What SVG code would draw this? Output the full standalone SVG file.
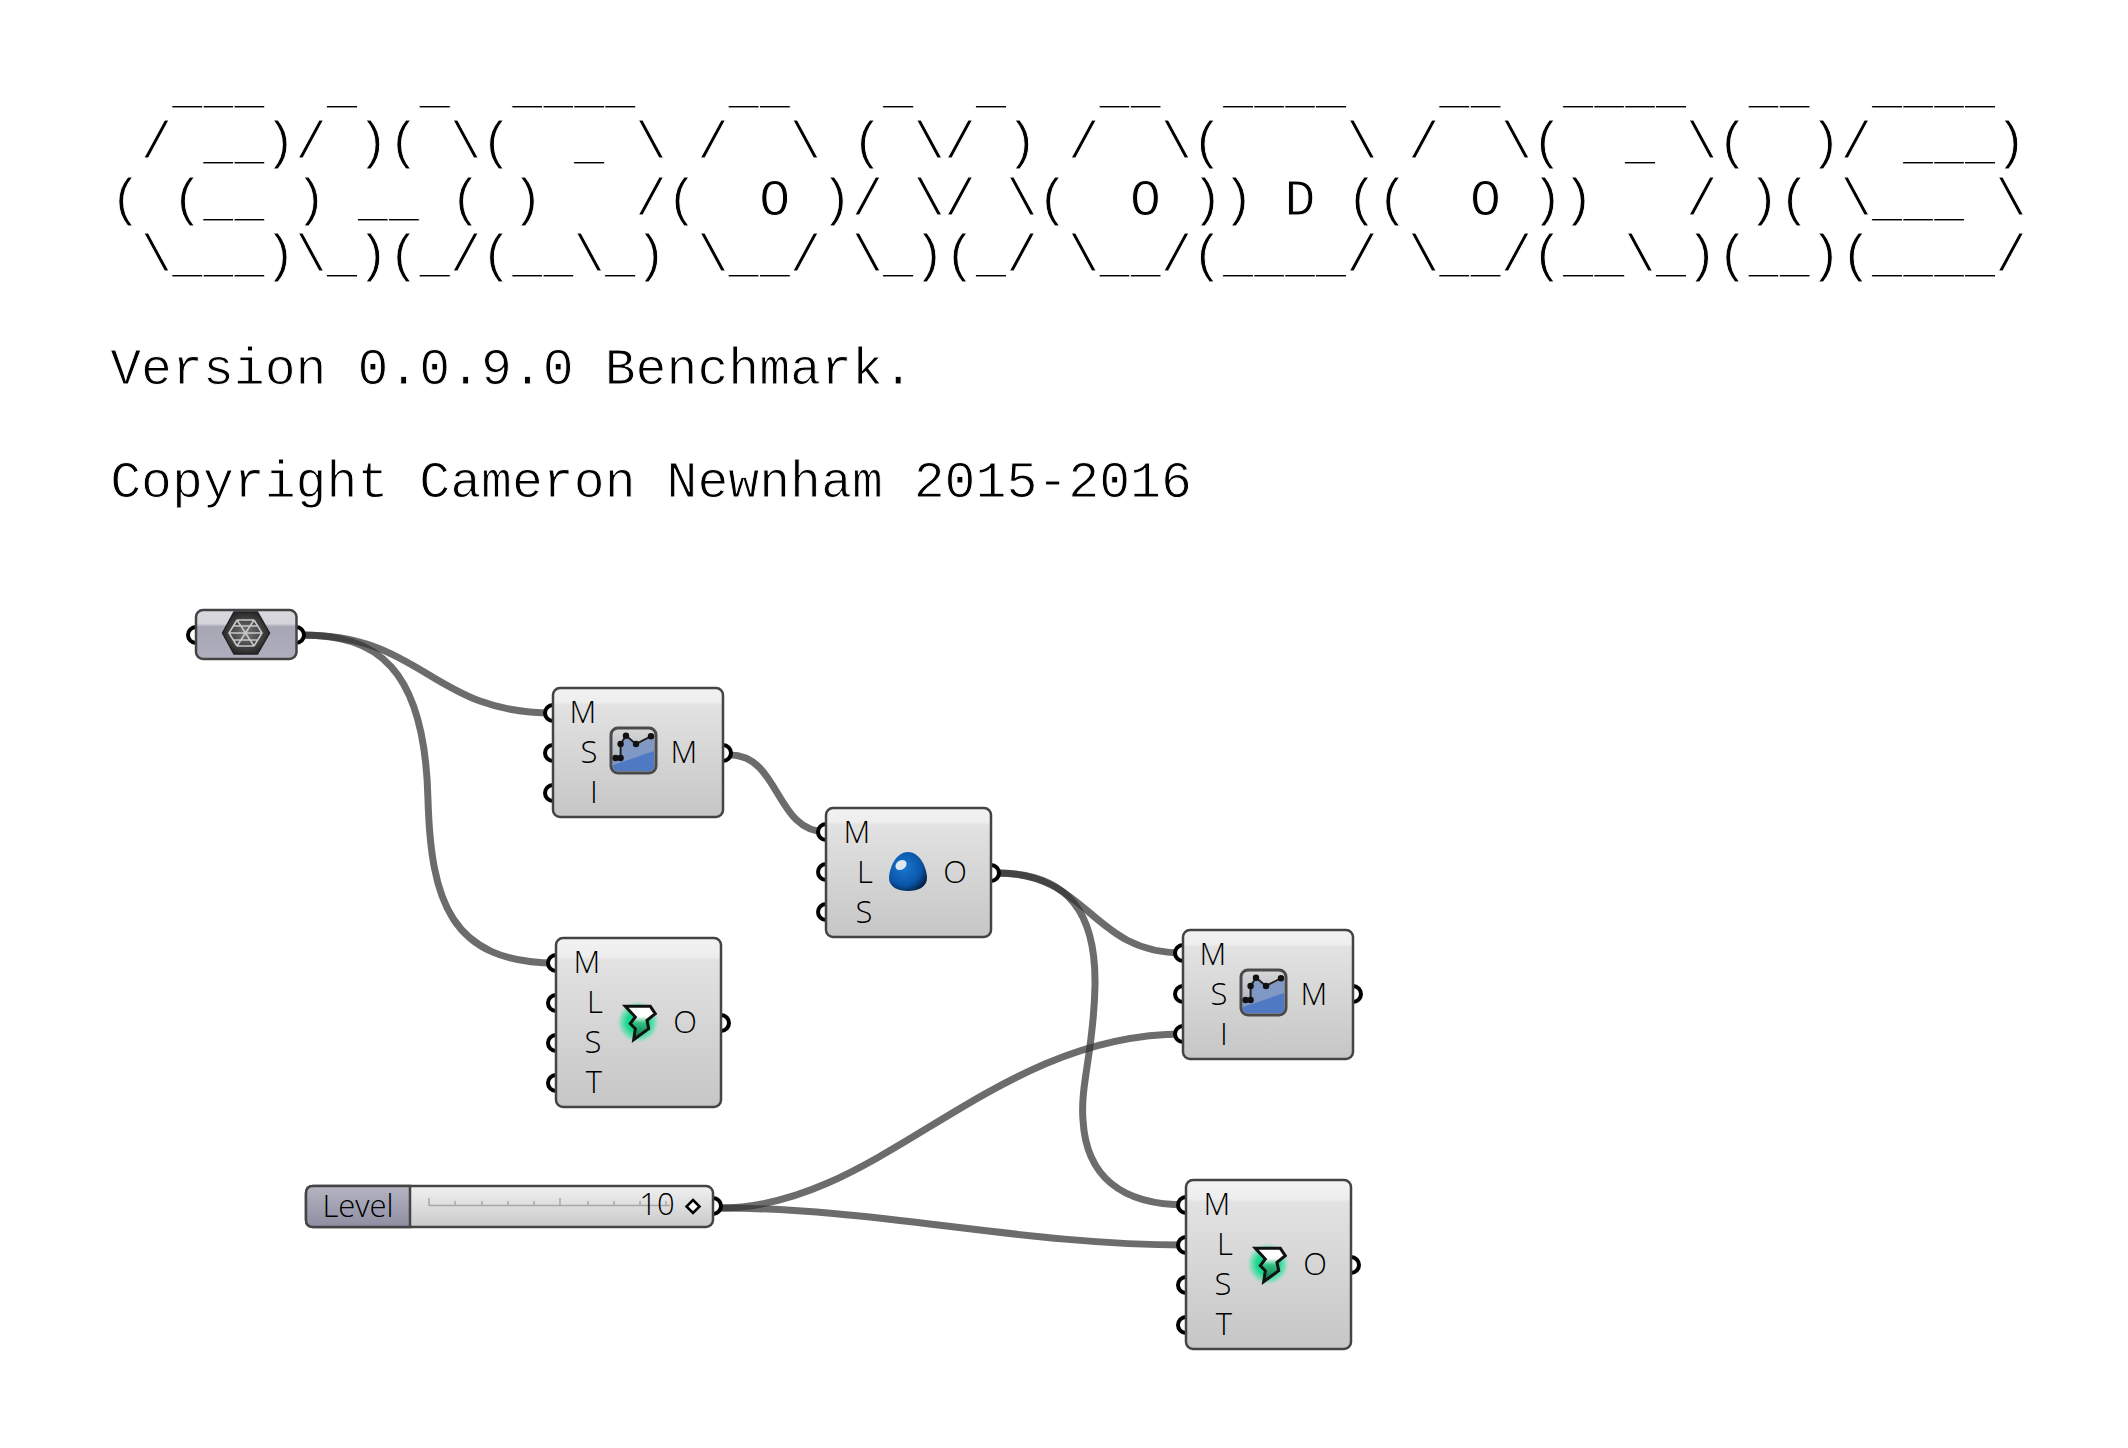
<svg xmlns="http://www.w3.org/2000/svg" width="2128" height="1448" viewBox="0 0 2128 1448">
<style>
.mono{font-family:"Liberation Mono","Courier New",monospace;font-size:51.5px;fill:#000;stroke:#fff;stroke-width:.9px;white-space:pre}
.lbl{font-family:"Open Sans","Noto Sans",sans-serif;font-size:31px;font-weight:350;fill:#000;text-anchor:middle}
.box{fill:url(#body);stroke:#444;stroke-width:2.5}
.port{fill:#fff;stroke:#000;stroke-width:4}
.wire{fill:none;stroke:#333;stroke-opacity:.72;stroke-width:7}
</style>
<defs>
<linearGradient id="body" x1="0" y1="0" x2="0" y2="1">
<stop offset="0" stop-color="#f2f2f2"/><stop offset=".11" stop-color="#eeeeee"/><stop offset=".13" stop-color="#e2e2e2"/><stop offset="1" stop-color="#c6c6c6"/>
</linearGradient>
<linearGradient id="grey" x1="0" y1="0" x2="0" y2="1">
<stop offset="0" stop-color="#d8d8de"/><stop offset=".28" stop-color="#d4d4da"/><stop offset=".34" stop-color="#a6a6b4"/><stop offset="1" stop-color="#aeaebc"/>
</linearGradient>
<linearGradient id="level" x1="0" y1="0" x2="0" y2="1">
<stop offset="0" stop-color="#b4b4c2"/><stop offset="1" stop-color="#8e8ea2"/>
</linearGradient>
<linearGradient id="slide" x1="0" y1="0" x2="0" y2="1">
<stop offset="0" stop-color="#f0f0f0"/><stop offset="1" stop-color="#cacaca"/>
</linearGradient>
<linearGradient id="chart" x1="0" y1="0" x2="0" y2="1">
<stop offset="0" stop-color="#d8d8d8"/><stop offset="1" stop-color="#a0a8b8"/>
</linearGradient>
<radialGradient id="egg" cx=".4" cy=".4" r=".65">
<stop offset="0" stop-color="#1a78d0"/><stop offset=".7" stop-color="#0a55a8"/><stop offset="1" stop-color="#04264e"/>
</radialGradient>
<radialGradient id="glow">
<stop offset="0" stop-color="#00d080"/><stop offset=".55" stop-color="#20d890"/><stop offset=".8" stop-color="#50e0a8" stop-opacity=".65"/><stop offset="1" stop-color="#80e8c0" stop-opacity="0"/>
</radialGradient>
<linearGradient id="boltfill" x1="0" y1="0" x2="0" y2="1">
<stop offset="0" stop-color="#fff"/><stop offset=".3" stop-color="#fff"/><stop offset=".5" stop-color="#30c080"/><stop offset="1" stop-color="#0a6a40"/>
</linearGradient>
<radialGradient id="hex"><stop offset="0" stop-color="#777"/><stop offset="1" stop-color="#2a2a2a"/></radialGradient>
<g id="chartIcon">
<rect x="0" y="0" width="45" height="45" rx="7" fill="url(#chart)" stroke="#4a4a4a" stroke-width="3"/>
<path d="M2 30L10 28L10 17L15 9L25 17L40 10L43 10V38Q43 43 38 43H7Q2 43 2 38Z" fill="#7f98c4"/>
<path d="M2 37L20 31L43 23V38Q43 43 38 43H7Q2 43 2 38Z" fill="#4f79c2"/>
<polyline points="4.6,30 9.6,30 9.6,16 15,7.7 25,16 40,8.3" fill="none" stroke="#222" stroke-width="2"/>
<g fill="#111"><circle cx="4.6" cy="30" r="3.2"/><circle cx="9.6" cy="30" r="3.2"/><circle cx="9.6" cy="16" r="3.2"/><circle cx="15" cy="7.7" r="3.2"/><circle cx="25" cy="16" r="3.2"/><circle cx="40" cy="8.3" r="3.2"/></g>
</g>
<g id="boltIcon">
<circle cx="0" cy="0" r="21" fill="url(#glow)"/>
<path d="M-12.7 -15.7H12.3L17.3 -8.3L9 -1.7L10.7 6.7L-4.3 17.7L-2.7 6.7L-7.7 1.7L-2.7 -5Z" fill="url(#boltfill)" stroke="#111" stroke-width="3" stroke-linejoin="miter"/>
</g>
</defs>
<rect width="2128" height="1448" fill="#fff"/>
<g id="banner">
<text class="mono" xml:space="preserve" x="110.2" y="102">  ___  _  _  ____   __   _  _   __  ____   __  ____  __  ____</text>
<text class="mono" xml:space="preserve" x="110.2" y="158.4"> / __)/ )( \(  _ \ /  \ ( \/ ) /  \(    \ /  \(  _ \(  )/ ___)</text>
<text class="mono" xml:space="preserve" x="110.2" y="214.8">( (__ ) __ ( )   /(  O )/ \/ \(  O )) D ((  O ))   / )( \___ \</text>
<text class="mono" xml:space="preserve" x="110.2" y="271.2"> \___)\_)(_/(__\_) \__/ \_)(_/ \__/(____/ \__/(__\_)(__)(____/</text>
<text class="mono" xml:space="preserve" x="110.2" y="384.2">Version 0.0.9.0 Benchmark.</text>
<text class="mono" xml:space="preserve" x="110.2" y="497.4">Copyright Cameron Newnham 2015-2016</text>
</g>
<g id="connectors">
<path class="wire" d="M302 635C425 635 430 713 553 713"/>
<path class="wire" d="M302 635C375 635 425 665 428 800C431 900 450 963 556 963"/>
<path class="wire" d="M730 755C780 755 775 832 826 832"/>
<path class="wire" d="M997 873C1090 873 1090 953 1183 953"/>
<path class="wire" d="M997 873C1070 873 1096 915 1095 985C1094 1050 1080 1085 1083 1120C1086 1175 1120 1205 1186 1205"/>
<path class="wire" d="M720 1208C880 1208 990 1034 1183 1034"/>
<path class="wire" d="M720 1208C880 1208 1020 1245 1186 1245"/>
</g>
<g id="mesh">
<circle class="port" cx="196" cy="635" r="8"/><circle class="port" cx="296" cy="635" r="8"/>
<rect x="196" y="610" width="100.5" height="49" rx="7" fill="url(#grey)" stroke="#444" stroke-width="2.5"/>
<polygon points="222.5,633 234,612 257.5,612 269.5,633 257.5,654 234,654" fill="url(#hex)" stroke="#222" stroke-width="1.5"/>
<path d="M229 633H262M237 620L254 646M254 620L237 646M233 626H258M233 640H258M237 620L229 633L237 646M254 620L262 633L254 646M237 620H254M237 646H254" fill="none" stroke="#c8c8c8" stroke-width="1.6"/>
</g>
<g id="smooth1">
<circle class="port" cx="553" cy="713" r="8"/><circle class="port" cx="553" cy="753" r="8"/><circle class="port" cx="553" cy="793" r="8"/><circle class="port" cx="723" cy="753" r="8"/>
<rect class="box" x="553" y="688" width="170" height="129" rx="7"/>
<text class="lbl" x="583" y="723">M</text><text class="lbl" x="589" y="763">S</text><text class="lbl" x="594" y="803">I</text><text class="lbl" x="684" y="763">M</text>
<use href="#chartIcon" x="611" y="728"/>
</g>
<g id="egg1">
<circle class="port" cx="826" cy="832" r="8"/><circle class="port" cx="826" cy="872" r="8"/><circle class="port" cx="826" cy="912" r="8"/><circle class="port" cx="991" cy="873" r="8"/>
<rect class="box" x="826" y="808" width="165" height="129" rx="7"/>
<text class="lbl" x="857" y="843">M</text><text class="lbl" x="865" y="883">L</text><text class="lbl" x="864" y="923">S</text><text class="lbl" x="955" y="883">O</text>
<path d="M908 852C921 852 927 870 927 878C927 887 918 891 908 891C898 891 889 887 889 878C889 870 895 852 908 852Z" fill="url(#egg)"/>
<ellipse cx="901" cy="865" rx="6" ry="4.5" fill="#dfe8f2" transform="rotate(-35 901 865)"/>
</g>
<g id="bolt1">
<circle class="port" cx="556" cy="963" r="8"/><circle class="port" cx="556" cy="1003" r="8"/><circle class="port" cx="556" cy="1043" r="8"/><circle class="port" cx="556" cy="1083" r="8"/><circle class="port" cx="721" cy="1023" r="8"/>
<rect class="box" x="556" y="938" width="165" height="169" rx="7"/>
<text class="lbl" x="587" y="973">M</text><text class="lbl" x="595" y="1013">L</text><text class="lbl" x="593" y="1053">S</text><text class="lbl" x="594" y="1093">T</text><text class="lbl" x="685" y="1033">O</text>
<use href="#boltIcon" x="638" y="1022"/>
</g>
<g id="smooth2">
<circle class="port" cx="1183" cy="953" r="8"/><circle class="port" cx="1183" cy="994" r="8"/><circle class="port" cx="1183" cy="1034" r="8"/><circle class="port" cx="1353" cy="994" r="8"/>
<rect class="box" x="1183" y="930" width="170" height="129" rx="7"/>
<text class="lbl" x="1213" y="965">M</text><text class="lbl" x="1219" y="1005">S</text><text class="lbl" x="1224" y="1045">I</text><text class="lbl" x="1314" y="1005">M</text>
<use href="#chartIcon" x="1241" y="970"/>
</g>
<g id="bolt2">
<circle class="port" cx="1186" cy="1205" r="8"/><circle class="port" cx="1186" cy="1245" r="8"/><circle class="port" cx="1186" cy="1285" r="8"/><circle class="port" cx="1186" cy="1325" r="8"/><circle class="port" cx="1351" cy="1265" r="8"/>
<rect class="box" x="1186" y="1180" width="165" height="169" rx="7"/>
<text class="lbl" x="1217" y="1215">M</text><text class="lbl" x="1225" y="1255">L</text><text class="lbl" x="1223" y="1295">S</text><text class="lbl" x="1224" y="1335">T</text><text class="lbl" x="1315" y="1275">O</text>
<use href="#boltIcon" x="1268" y="1264"/>
</g>
<g id="slider">
<circle class="port" cx="713" cy="1206" r="8"/>
<rect x="306" y="1186" width="407" height="41" rx="7" fill="url(#slide)" stroke="#444" stroke-width="2.5"/>
<path d="M313 1186H410V1227H313Q306 1227 306 1220V1193Q306 1186 313 1186Z" fill="url(#level)" stroke="#444" stroke-width="2.5"/>
<text class="lbl" x="358" y="1217">Level</text>
<path d="M429 1205.5H670M429 1198V1206M455 1201V1206M482 1201V1206M508 1201V1206M534 1201V1206M560 1198V1206M588 1201V1206M614 1201V1206M640 1201V1206M666 1201V1206" fill="none" stroke="#a8a8a8" stroke-width="1.5"/>
<text class="lbl" x="657" y="1215">10</text>
<polygon points="693,1200 699.5,1206.5 693,1213 686.5,1206.5" fill="#fff" stroke="#000" stroke-width="2.5"/>
</g>
</svg>
